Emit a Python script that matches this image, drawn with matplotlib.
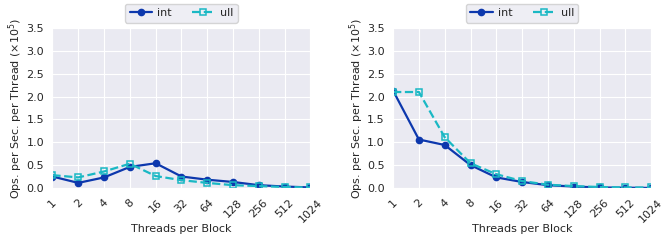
import matplotlib
matplotlib.use("Agg")
import matplotlib.pyplot as plt
import seaborn as sns

THREADS = ["1", "2", "4", "8", "16", "32", "64", "128", "256", "512", "1024"]

LEFT_INT = [0.25, 0.11, 0.23, 0.46, 0.54, 0.25, 0.18, 0.13, 0.06, 0.03, 0.01]
LEFT_ULL = [0.28, 0.23, 0.36, 0.53, 0.26, 0.17, 0.11, 0.06, 0.04, 0.02, 0.01]
RIGHT_INT = [2.13, 1.06, 0.94, 0.50, 0.23, 0.13, 0.06, 0.03, 0.01, 0.005, 0.0]
RIGHT_ULL = [2.10, 2.10, 1.11, 0.54, 0.30, 0.15, 0.07, 0.04, 0.02, 0.01, 0.01]
YTICKS = [0, 0.5, 1.0, 1.5, 2.0, 2.5, 3.0, 3.5]

INT_COLOR = "#0d38ad"
ULL_COLOR = "#1ab8c4"

sns.set_style("darkgrid")
plt.rcParams["font.family"] = ["DejaVu Sans"]

fig, axes = plt.subplots(1, 2, figsize=(6.72, 2.4), dpi=100)
x = list(range(len(THREADS)))
for ax, ys_int, ys_ull in zip(axes, [LEFT_INT, RIGHT_INT], [LEFT_ULL, RIGHT_ULL]):
    ax.plot(x, ys_int, color=INT_COLOR, marker="o", markersize=4.5, linewidth=1.6, label="int")
    ax.plot(x, ys_ull, color=ULL_COLOR, marker="s", markersize=4.5, markerfacecolor="none",
            markeredgewidth=1.1, linestyle="--", linewidth=1.6, label="ull")
    ax.set_xlim(0, len(THREADS) - 1)
    ax.set_ylim(0, 3.5)
    ax.set_xticks(x)
    ax.set_xticklabels(THREADS, rotation=45, fontsize=8)
    ax.set_yticks(YTICKS)
    ax.set_yticklabels([f"{v:.1f}" for v in YTICKS], fontsize=8)
    ax.tick_params(axis="x", pad=3)
    ax.tick_params(axis="y", pad=2.5)
    ax.set_xlabel("Threads per Block", fontsize=8, labelpad=0)
    ax.set_ylabel(r"Ops. per Sec. per Thread ($\times10^5$)", fontsize=8, labelpad=1)
    ax.legend(loc="lower center", bbox_to_anchor=(0.5, 1.0), ncol=2, fontsize=8,
              frameon=True, handlelength=2.0, handletextpad=0.5, columnspacing=1.8)

fig.subplots_adjust(left=0.078, right=0.969, top=0.883, bottom=0.217, wspace=0.32)
fig.savefig("out.png", dpi=100)
